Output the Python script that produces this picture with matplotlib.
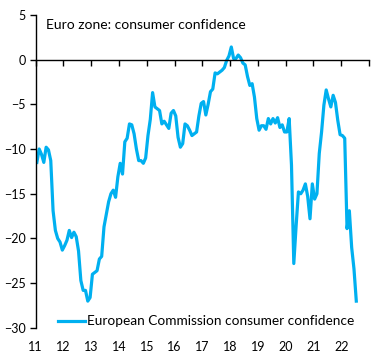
import numpy as np
import matplotlib
matplotlib.use("Agg")
import matplotlib.pyplot as plt

plt.rcParams['font.family'] = ['Lato', 'DejaVu Sans']

# monthly values, Jan 2011 .. Jul 2022
conf_2011 = [-11.5, -10.0, -10.6, -11.5, -9.8, -10.1, -11.3, -16.9, -19.1, -20.0, -20.4, -21.3]
conf_2012 = [-20.8, -20.2, -19.1, -19.9, -19.3, -19.8, -21.4, -24.7, -25.8, -25.8, -27.0, -26.6]
conf_2013 = [-24.0, -23.8, -23.6, -22.3, -22.0, -18.7, -17.3, -15.9, -15.0, -14.6, -15.4, -13.1]
conf_2014 = [-11.6, -12.8, -9.2, -8.8, -7.2, -7.3, -8.3, -10.0, -11.3, -11.3, -11.6, -11.0]
conf_2015 = [-8.5, -6.7, -3.7, -5.3, -5.5, -5.7, -7.2, -6.9, -7.3, -7.7, -6.0, -5.7]
conf_2016 = [-6.3, -8.7, -9.8, -9.4, -7.2, -7.4, -7.9, -8.5, -8.3, -8.1, -6.3, -4.9]
conf_2017 = [-4.7, -6.2, -5.0, -3.6, -3.3, -1.5, -1.6, -1.4, -1.2, -0.9, -0.1, 0.4]
conf_2018 = [1.4, 0.1, 0.1, 0.5, 0.2, -0.4, -0.6, -1.9, -2.9, -2.7, -4.2, -6.6]
conf_2019 = [-7.9, -7.4, -7.4, -7.8, -6.6, -7.2, -6.6, -7.1, -6.5, -7.6, -7.3, -8.1]
conf_2020 = [-8.1, -6.6, -11.8, -22.8, -18.6, -14.8, -15.0, -14.6, -13.9, -15.3, -17.8, -13.9]
conf_2021 = [-15.6, -15.0, -10.5, -8.1, -5.1, -3.4, -4.4, -5.3, -4.0, -4.8, -6.8, -8.4]
conf_2022 = [-8.5, -8.8, -18.9, -16.9, -21.0, -23.4, -27.0]

values = (conf_2011 + conf_2012 + conf_2013 + conf_2014 + conf_2015 + conf_2016
          + conf_2017 + conf_2018 + conf_2019 + conf_2020 + conf_2021 + conf_2022)
dates = 2011 + np.arange(len(values)) / 12 + 1 / 24

year_ticks = list(range(2011, 2024))
year_labels = ['11', '12', '13', '14', '15', '16', '17', '18', '19', '20', '21', '22']

fig = plt.figure(figsize=(3.84, 3.6), dpi=100)
ax = fig.add_axes([0.093, 0.089, 0.868, 0.87])

ax.plot(dates, values, color='#00B0F0', lw=2.3,
        label='European Commission consumer confidence')

ax.set_xlim(2011, 2023)
ax.set_ylim(-30, 5)
ax.set_yticks(range(-30, 6, 5))
ax.set_xticks(year_ticks)
ax.set_xticklabels([])

for s in ['top', 'right']:
    ax.spines[s].set_visible(False)
ax.spines['bottom'].set_position(('data', 0))
ax.spines['left'].set_linewidth(1)
ax.spines['bottom'].set_linewidth(1)
ax.tick_params(axis='y', direction='out', length=4, width=1, pad=3, labelsize=9)
ax.tick_params(axis='x', direction='out', length=4, width=1)

# year labels sit under the plot, not under the zero line
for yr, lab in zip(year_ticks, year_labels):
    ax.text(yr, -0.062, lab, transform=ax.get_xaxis_transform(),
            ha='center', va='center', fontsize=9)

ax.text(0.03, 0.985, 'Euro zone: consumer confidence', transform=ax.transAxes,
        ha='left', va='top', fontsize=10)

ax.legend(loc='lower left', bbox_to_anchor=(0.046, -0.02), frameon=False,
          borderpad=0, fontsize=9.8, handlelength=2.0, handletextpad=0.15)

fig.savefig('out.png', dpi=100)
